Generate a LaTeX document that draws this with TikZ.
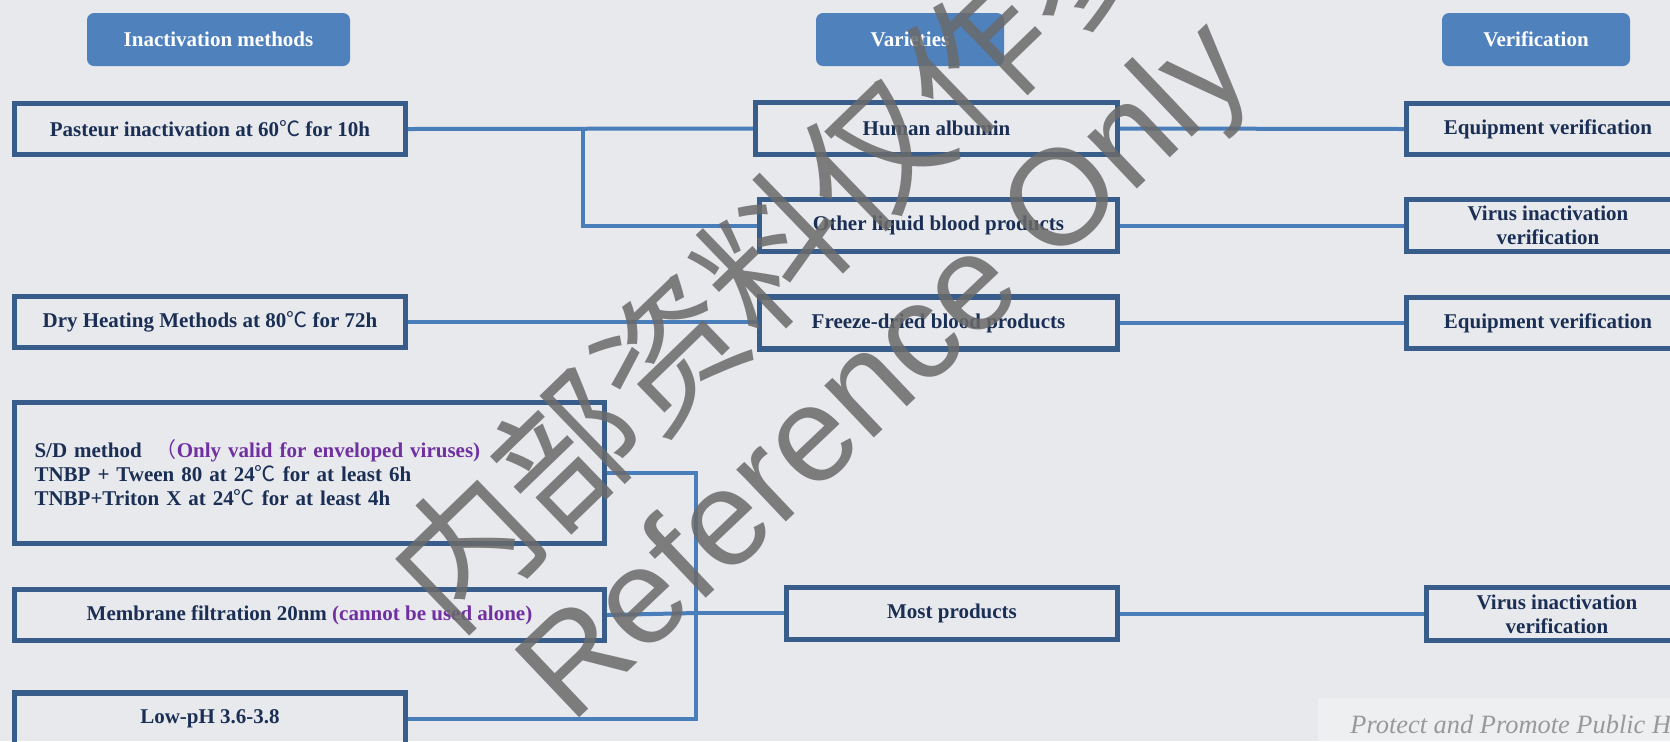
\documentclass[tikz,border=0pt]{standalone}
\usepackage{fontspec}
\setmainfont{Liberation Serif}
\newfontfamily\cjk{Noto Sans CJK SC}
\newfontfamily\wmsans{Liberation Sans}
\usetikzlibrary{calc}

\definecolor{paperbg}{HTML}{E7E9ED}
\definecolor{footbg}{HTML}{EEEFF1}
\definecolor{headblue}{HTML}{4F81BD}
\definecolor{boxblue}{HTML}{385D8A}
\definecolor{linkblue}{HTML}{4A7EBB}
\definecolor{inktext}{HTML}{1B2F55}
\definecolor{notepurple}{HTML}{7030A0}
\definecolor{wmgray}{HTML}{6A6A6A}

\newcommand{\degc}{{\cjk\mdseries ℃}}

\tikzset{
  head/.style={fill=headblue, rounded corners=3.5pt, text=white,
    font=\bfseries\fontsize{10.5}{12}\selectfont,
    minimum width=94pt, minimum height=26.5pt, inner sep=0pt},
  item/.style={draw=boxblue, line width=2.6pt, text=inktext,
    font=\bfseries\fontsize{10.5}{12}\selectfont,
    minimum height=25.5pt, inner sep=0pt, align=center},
  link/.style={draw=linkblue, line width=2pt},
}

\begin{document}
\begin{tikzpicture}[x=0.5pt, y=-0.5pt]
  % Canvas
  \useasboundingbox (0,0) rectangle (1670,741);
  \clip (0,0) rectangle (1670,741);
  \fill[paperbg] (0,0) rectangle (1670,741);
  \fill[footbg] (1318,698) rectangle (1670,741);

  % Column heads
  \node[head, minimum width=131.5pt] (hmeth) at (218.5,39.5) {Inactivation methods};
  \node[head] (hvar) at (910,39.5) {Varieties};
  \node[head] (hver) at (1536,39.5) {Verification};

  % Inactivation methods
  \node[item, minimum width=195.5pt] (pasteur) at (210,129)
    {Pasteur inactivation at 60\degc{} for 10h};
  \node[item, minimum width=195.5pt] (dry) at (210,322)
    {Dry Heating Methods at 80\degc{} for 72h};
  \node[item, minimum width=295pt, minimum height=70.5pt, text width=275pt,
    align=left] (sd) at (309.5,473)
    {S/D method\ \ {\color{notepurple}{\cjk\mdseries （}Only valid for enveloped viruses)}\\
     TNBP + Tween 80 at 24\degc{} for at least 6h\\
     TNBP+Triton X at 24\degc{} for at least 4h};
  \node[item, minimum width=295pt] (membrane) at (309.5,615)
    {Membrane filtration 20nm {\color{notepurple}(cannot be used alone)}};
  \node[item, minimum width=195.5pt, minimum height=26pt] (lowph) at (210,719)
    {Low-pH 3.6-3.8};

  % Varieties
  \node[item, minimum width=181pt, minimum height=26pt] (albumin) at (936.5,128.5) {Human albumin};
  \node[item, minimum width=179pt, minimum height=26pt] (liquid) at (938.5,225.5) {Other liquid blood products};
  \node[item, minimum width=179pt, minimum height=26pt] (freeze) at (938.5,323) {Freeze-dried blood products};
  \node[item, minimum width=165.5pt, minimum height=26pt] (most) at (952,613.5) {Most products};

  % Verification
  \node[item, minimum width=141.5pt] (equipA) at (1548,129) {Equipment verification};
  \node[item, minimum width=141.5pt, minimum height=26pt] (virusA) at (1548,225.5) {Virus inactivation\\verification};
  \node[item, minimum width=141.5pt] (equipB) at (1548,323) {Equipment verification};
  \node[item, minimum width=130.5pt, minimum height=26.5pt] (virusB) at (1557,614) {Virus inactivation\\verification};

  % Junctions
  \coordinate (jtop) at (583,129);
  \coordinate (jlow) at (696,613);

  % Links
  \draw[link] (pasteur.east) -- (albumin.west);
  \draw[link] (jtop) |- (liquid.west);
  \draw[link] (dry.east) -- (dry.east -| freeze.west);
  \draw[link] (albumin.east) -- (equipA.west);
  \draw[link] (liquid.east) -- (virusA.west);
  \draw[link] (freeze.east) -- (freeze.east -| equipB.west);
  \draw[link] (sd.east) -| (jlow) |- (lowph.east);
  \draw[link] (membrane.east) -- (jlow);
  \draw[link] (jlow) -- (jlow -| most.west);
  \draw[link] (most.east) -- (most.east -| virusB.west);

  % Footer
  \node[anchor=base west, text=black!40, font=\itshape\fontsize{13.2}{15}\selectfont,
    inner sep=0pt] (motto) at (1350,733) {Protect and Promote Public Health};

  % Watermark
  \node[rotate=44, text=wmgray, text opacity=0.85, inner sep=0pt,
    font=\cjk\fontsize{71}{71}\selectfont] (wmcn) at (822,204) {内部资料仅作参考};
  \node[rotate=43.5, text=wmgray, text opacity=0.85, inner sep=0pt,
    font=\wmsans\fontsize{68}{68}\selectfont] (wmen) at (890,375) {Reference Only};
\end{tikzpicture}
\end{document}
